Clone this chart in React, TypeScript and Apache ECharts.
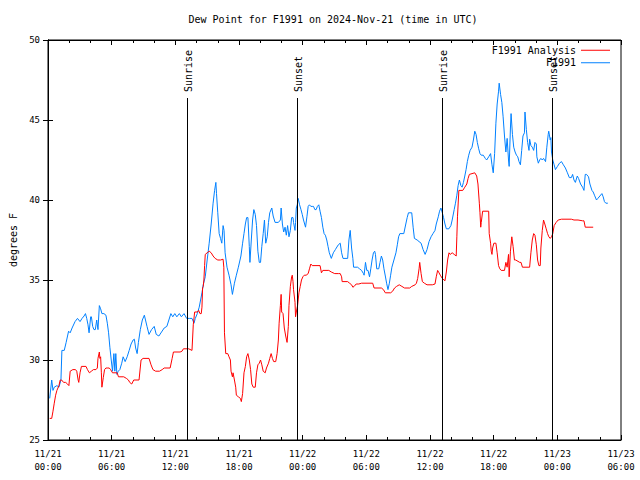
import React, { useEffect, useRef } from "react";
import * as echarts from "echarts";

// Hours since 11/21 00:00 UTC, dew point in degrees F
const f1991Analysis: [number, number][] = [
  [0.16,26.35],[0.35,26.35],[0.47,26.8],[0.59,27.3],[0.72,27.8],[0.84,28.1],[1.03,28.4],[1.15,28.75],[1.28,28.75],[1.47,28.6],[1.66,28.6],[1.84,28.5],[1.97,28.4],[2.09,29.3],[2.34,29.4],[2.59,29.4],[2.71,29.3],[2.84,28.75],[2.90,28.6],[3.02,29.2],[3.15,29.6],[3.58,29.6],[3.72,29.4],[3.90,29.2],[4.09,29.3],[4.28,29.4],[4.52,29.4],[4.65,29.5],[4.71,30.1],[4.84,30.5],[4.89,30.1],[4.96,30.2],[5.03,29.2],[5.08,28.3],[5.21,28.9],[5.33,29.4],[5.46,29.5],[5.64,29.5],[5.77,29.5],[5.90,29.4],[6.08,29.2],[6.52,29.2],[6.64,28.95],[7.14,28.95],[7.39,28.85],[7.58,28.75],[7.70,28.6],[7.89,28.5],[8.08,28.75],[8.58,28.75],[8.77,30.0],[8.96,30.1],[9.52,30.1],[9.71,29.7],[9.89,29.4],[10.14,29.3],[10.51,29.3],[10.76,29.4],[10.95,29.5],[11.51,29.5],[11.70,30.1],[11.82,30.5],[12.45,30.5],[12.63,30.55],[12.76,30.7],[13.26,30.7],[13.57,30.6],[13.69,32.2],[13.82,33.0],[14.07,33.0],[14.20,33.1],[14.32,32.9],[14.44,32.9],[14.51,33.3],[14.57,34.5],[14.63,34.6],[14.69,35.0],[14.76,35.9],[14.82,36.6],[15.00,36.7],[15.19,36.8],[15.38,36.7],[15.56,36.5],[15.75,36.35],[16.00,36.25],[16.26,36.25],[16.50,36.3],[16.57,35.8],[16.63,31.7],[16.75,30.4],[16.94,30.4],[17.06,30.2],[17.19,30.0],[17.25,29.3],[17.38,28.95],[17.44,29.2],[17.57,28.75],[17.69,28.3],[17.75,27.8],[17.94,27.7],[18.13,27.6],[18.22,27.4],[18.34,27.9],[18.47,29.2],[18.60,29.6],[18.72,30.2],[18.84,30.4],[18.97,30.0],[19.09,29.4],[19.21,28.5],[19.34,28.3],[19.53,28.3],[19.65,29.2],[19.78,29.7],[19.91,29.8],[20.03,30.0],[20.15,29.7],[20.28,29.3],[20.47,29.2],[20.59,29.5],[20.78,29.8],[20.90,30.1],[21.03,30.4],[21.15,30.1],[21.27,29.9],[21.46,29.9],[21.59,30.4],[21.71,31.25],[21.78,32.3],[21.90,33.4],[21.97,34.1],[22.02,33.0],[22.15,32.9],[22.27,32.0],[22.40,31.5],[22.53,31.1],[22.65,32.1],[22.71,33.4],[22.84,34.6],[22.96,35.2],[23.02,35.3],[23.09,34.9],[23.14,34.4],[23.28,33.6],[23.33,32.7],[23.40,33.0],[23.52,33.4],[23.65,34.2],[23.77,34.6],[23.89,35.0],[24.02,35.2],[24.15,35.3],[24.33,35.3],[24.52,35.4],[24.64,35.7],[24.77,36.0],[24.90,35.9],[25.64,35.9],[25.77,35.45],[25.90,35.6],[26.46,35.6],[26.70,35.5],[27.02,35.4],[27.36,35.4],[27.54,35.4],[27.67,35.2],[27.72,34.9],[28.24,34.9],[28.42,34.8],[28.61,34.7],[28.73,34.55],[28.85,34.6],[29.04,34.75],[29.29,34.75],[29.55,34.8],[30.60,34.8],[30.73,34.5],[31.42,34.5],[31.61,34.4],[31.79,34.2],[32.29,34.2],[32.48,34.3],[32.66,34.5],[32.85,34.6],[33.10,34.7],[33.35,34.6],[33.60,34.5],[34.09,34.5],[34.28,34.6],[34.60,34.7],[34.72,34.8],[34.84,35.1],[34.97,35.7],[35.03,36.1],[35.16,35.4],[35.28,34.9],[35.47,34.8],[35.72,34.7],[36.22,34.7],[36.47,34.75],[36.59,35.2],[36.72,35.6],[36.85,35.45],[36.97,35.3],[37.16,35.1],[37.41,34.95],[37.54,35.5],[37.66,36.25],[37.79,36.7],[37.90,36.6],[38.09,36.7],[38.28,36.6],[38.47,36.5],[38.53,37.7],[38.59,38.95],[38.72,40.6],[39.09,40.6],[39.28,40.8],[39.47,41.0],[39.59,41.35],[39.71,41.6],[40.22,41.7],[40.40,41.5],[40.52,41.0],[40.65,39.8],[40.71,39.2],[40.78,38.3],[40.83,38.6],[40.96,39.3],[41.53,39.3],[41.58,37.9],[41.71,37.3],[41.77,36.8],[41.84,36.6],[41.90,37.0],[42.02,37.3],[42.21,37.3],[42.33,36.7],[42.46,35.9],[42.58,35.7],[42.71,35.6],[43.02,35.6],[43.15,36.1],[43.27,35.8],[43.40,36.6],[43.46,35.2],[43.58,36.8],[43.71,37.7],[43.83,37.1],[43.96,36.25],[44.08,36.25],[44.46,36.1],[44.58,36.1],[44.71,35.8],[45.39,35.8],[45.51,36.7],[45.64,37.5],[45.77,37.9],[45.89,37.8],[46.02,37.2],[46.14,36.25],[46.26,35.9],[46.39,35.9],[46.45,37.0],[46.58,38.1],[46.70,38.75],[46.82,38.5],[46.95,38.2],[47.08,37.9],[47.20,37.7],[47.33,37.6],[47.45,37.7],[47.57,37.9],[47.70,38.4],[47.89,38.6],[48.08,38.75],[48.39,38.8],[49.32,38.8],[49.57,38.75],[49.95,38.75],[50.38,38.7],[50.51,38.7],[50.63,38.3],[51.38,38.3]
];

const f1991Obs: [number, number][] = [
  [0.16,27.6],[0.35,28.75],[0.47,28.1],[0.59,28.3],[0.84,28.4],[1.03,28.3],[1.22,28.75],[1.31,30.6],[1.53,30.6],[1.71,31.1],[1.94,31.8],[2.09,31.7],[2.27,32.0],[2.55,32.4],[2.78,32.6],[3.02,32.4],[3.21,32.6],[3.40,32.75],[3.53,32.9],[3.65,32.6],[3.77,32.2],[3.87,31.7],[4.02,32.7],[4.09,32.7],[4.21,32.1],[4.33,31.9],[4.46,31.9],[4.59,32.5],[4.71,31.9],[4.84,33.4],[4.96,33.2],[5.08,32.9],[5.27,32.9],[5.46,32.8],[5.59,32.3],[5.71,31.7],[5.83,30.8],[5.96,30.0],[6.08,29.3],[6.21,30.4],[6.30,29.3],[6.39,30.4],[6.49,29.1],[6.62,29.3],[6.77,29.4],[6.95,29.8],[7.08,30.2],[7.27,29.9],[7.46,30.2],[7.65,30.6],[7.83,31.0],[8.02,31.25],[8.14,31.3],[8.26,30.75],[8.40,30.4],[8.52,31.1],[8.70,31.9],[8.89,32.5],[9.08,32.8],[9.33,32.1],[9.52,31.6],[9.76,31.9],[10.01,32.1],[10.20,31.6],[10.45,31.5],[10.70,31.75],[10.95,32.0],[11.20,32.1],[11.39,32.5],[11.58,32.9],[11.76,32.7],[11.95,32.9],[12.14,32.7],[12.38,32.9],[12.57,32.7],[12.82,32.9],[13.07,32.6],[13.32,32.6],[13.57,32.6],[13.76,32.3],[13.88,32.6],[14.07,32.9],[14.25,33.3],[14.38,33.75],[14.51,34.2],[14.63,34.7],[14.82,35.2],[15.00,36.25],[15.19,37.3],[15.38,38.5],[15.56,39.8],[15.70,40.6],[15.82,41.1],[15.88,40.4],[16.00,39.2],[16.13,37.9],[16.26,37.6],[16.38,37.3],[16.50,38.4],[16.59,38.1],[16.69,36.7],[16.87,35.8],[17.06,35.3],[17.25,34.7],[17.38,34.1],[17.57,34.8],[17.75,35.3],[17.94,35.8],[18.18,36.5],[18.34,37.3],[18.47,37.9],[18.60,38.5],[18.72,38.9],[18.84,38.9],[18.97,37.1],[19.03,36.1],[19.16,37.5],[19.28,38.75],[19.40,39.4],[19.53,39.1],[19.65,38.4],[19.78,36.8],[19.91,36.1],[20.03,36.1],[20.15,37.1],[20.28,37.9],[20.40,38.75],[20.52,37.3],[20.66,37.7],[20.78,38.6],[20.90,39.2],[21.09,39.5],[21.22,39.0],[21.40,38.6],[21.71,38.6],[21.90,38.75],[21.97,39.5],[22.09,38.5],[22.21,38.0],[22.34,38.3],[22.46,37.8],[22.58,38.4],[22.71,37.7],[22.84,38.1],[22.96,38.9],[23.09,38.9],[23.14,38.6],[23.28,38.1],[23.33,38.6],[23.40,39.5],[23.49,39.7],[23.58,40.1],[23.71,39.7],[23.84,39.4],[23.96,39.1],[24.08,38.75],[24.27,38.3],[24.40,38.95],[24.52,39.6],[24.64,39.7],[24.77,39.6],[24.90,39.6],[25.02,39.6],[25.15,39.4],[25.27,39.4],[25.39,39.6],[25.52,39.7],[25.64,39.3],[25.77,38.9],[25.90,38.3],[26.02,37.9],[26.14,37.8],[26.27,37.5],[26.39,37.1],[26.51,36.7],[26.70,36.35],[26.89,36.7],[27.08,36.9],[27.17,37.0],[27.36,37.2],[27.54,37.3],[27.67,36.7],[27.80,36.35],[28.24,36.35],[28.36,37.5],[28.48,38.1],[28.61,37.0],[28.73,36.35],[28.80,35.8],[29.17,35.8],[29.36,35.7],[29.55,35.6],[29.73,35.4],[29.79,35.3],[29.92,36.1],[30.04,35.6],[30.16,35.6],[30.30,35.2],[30.42,35.7],[30.54,36.25],[30.67,36.7],[30.79,36.8],[30.86,36.6],[30.98,35.7],[31.17,35.7],[31.29,36.1],[31.42,36.5],[31.54,36.25],[31.66,35.7],[31.79,35.25],[31.91,34.8],[32.04,34.4],[32.17,34.8],[32.29,35.3],[32.41,35.8],[32.60,36.25],[32.79,36.7],[32.92,37.2],[33.04,37.7],[33.16,37.9],[33.53,37.9],[33.72,38.5],[33.85,38.9],[33.97,39.2],[34.28,39.2],[34.41,38.3],[34.53,37.6],[34.79,37.5],[34.97,37.4],[35.16,37.3],[35.35,36.9],[35.54,36.6],[35.72,36.9],[35.91,37.4],[36.10,37.7],[36.28,37.9],[36.47,38.1],[36.59,38.5],[36.78,38.95],[36.90,39.3],[37.03,39.5],[37.16,39.2],[37.28,38.9],[37.41,38.5],[37.54,38.2],[37.78,38.2],[37.97,38.4],[38.09,38.75],[38.28,39.4],[38.40,39.8],[38.53,40.3],[38.65,40.9],[38.77,41.25],[38.91,40.9],[39.03,40.8],[39.15,41.1],[39.28,41.5],[39.40,41.9],[39.52,42.4],[39.65,42.8],[39.78,43.1],[39.96,43.3],[40.09,43.75],[40.22,44.3],[40.34,44.1],[40.46,43.6],[40.59,43.2],[40.71,42.9],[40.83,42.8],[41.02,42.8],[41.21,42.6],[41.34,42.5],[41.53,42.7],[41.71,42.9],[41.84,42.2],[41.96,41.7],[42.09,42.9],[42.21,44.8],[42.33,46.0],[42.46,46.8],[42.52,47.3],[42.65,46.6],[42.77,46.1],[42.89,45.2],[43.02,44.0],[43.15,43.0],[43.27,43.85],[43.40,42.5],[43.46,42.1],[43.58,44.5],[43.64,45.4],[43.77,44.1],[43.89,43.3],[44.02,43.0],[44.15,42.8],[44.27,42.7],[44.39,42.4],[44.52,42.2],[44.64,43.1],[44.76,44.0],[44.90,44.2],[44.95,45.5],[45.08,44.4],[45.20,43.6],[45.33,43.1],[45.39,43.8],[45.51,43.4],[45.64,43.3],[45.77,43.1],[45.89,43.6],[46.02,43.5],[46.07,42.7],[46.21,42.3],[46.33,42.5],[46.45,42.6],[46.58,42.5],[46.70,42.6],[46.89,42.4],[47.01,43.3],[47.14,44.1],[47.19,44.3],[47.33,43.75],[47.39,43.9],[47.45,43.0],[47.57,42.5],[47.70,42.2],[47.82,41.9],[48.01,42.1],[48.20,42.3],[48.39,42.4],[48.57,42.2],[48.76,42.0],[48.95,41.7],[49.13,41.4],[49.32,41.4],[49.44,41.6],[49.57,41.25],[49.70,41.1],[49.88,41.5],[50.00,41.35],[50.19,41.0],[50.38,40.8],[50.51,40.6],[50.63,41.6],[50.75,41.6],[50.94,41.45],[51.07,41.0],[51.26,40.6],[51.38,40.5],[51.50,40.3],[51.69,40.0],[51.82,40.1],[52.01,40.25],[52.20,40.4],[52.32,40.2],[52.44,39.9],[52.57,39.8],[52.76,39.8]
];

const sunEventHours = [13.12, 23.51, 37.13, 47.49];
const sunEventNames = ["Sunrise", "Sunset", "Sunrise", "Sunset"];

const xTickLabels = [
  "11/21\n00:00", "11/21\n06:00", "11/21\n12:00", "11/21\n18:00",
  "11/22\n00:00", "11/22\n06:00", "11/22\n12:00", "11/22\n18:00",
  "11/23\n00:00", "11/23\n06:00",
];

const seriesNames = ["F1991 Analysis", "F1991"];
const titleText = "Dew Point for F1991 on 2024-Nov-21 (time in UTC)";
const yName = "degrees F";

const MONO = "'DejaVu Sans Mono', 'Liberation Mono', monospace";

export default function App() {
  const ref = useRef<HTMLDivElement>(null);

  useEffect(() => {
    if (!ref.current) return;
    const chart = echarts.init(ref.current, undefined, { renderer: "svg" });

    const xCommon = {
      type: "value" as const,
      min: 0,
      max: 54,
      interval: 6,
      splitLine: { show: false },
      minorSplitLine: { show: false },
      axisLine: { show: true, lineStyle: { color: "#000", width: 1 } },
      axisTick: { show: true, inside: true, length: 5, lineStyle: { color: "#000" } },
      minorTick: { show: true, splitNumber: 3, length: 3, lineStyle: { color: "#000" } },
    };
    const yCommon = {
      type: "value" as const,
      min: 25,
      max: 50,
      interval: 5,
      splitLine: { show: false },
      axisLine: { show: true, lineStyle: { color: "#000", width: 1 } },
      axisTick: { show: true, inside: true, length: 5, lineStyle: { color: "#000" } },
    };

    chart.setOption({
      animation: false,
      backgroundColor: "#fff",
      title: {
        text: titleText,
        left: 333,
        top: 14,
        textAlign: "center",
        padding: 0,
        textStyle: { fontFamily: MONO, fontSize: 10, fontWeight: "normal", color: "#000" },
      },
      legend: {
        data: seriesNames,
        orient: "vertical",
        right: 30,
        top: 44,
        align: "right",
        padding: 0,
        itemGap: 0,
        itemWidth: 29,
        itemHeight: 1,
        icon: "rect",
        selectedMode: false,
        textStyle: { fontFamily: MONO, fontSize: 10, color: "#000", lineHeight: 12.5 },
      },
      grid: {
        left: 46,
        right: 19,
        top: 40,
        bottom: 40,
        show: true,
        borderColor: "#000",
        borderWidth: 1,
      },
      xAxis: [
        {
          ...xCommon,
          position: "bottom",
          axisLabel: {
            show: true,
            margin: 7,
            fontFamily: MONO,
            fontSize: 9,
            lineHeight: 13,
            color: "#000",
            formatter: (v: number) => xTickLabels[Math.round(v / 6)] ?? "",
          },
        },
        {
          ...xCommon,
          position: "top",
          axisLabel: { show: false },
        },
      ],
      yAxis: [
        {
          ...yCommon,
          position: "left",
          name: yName,
          nameLocation: "middle",
          nameGap: 30,
          nameTextStyle: { fontFamily: MONO, fontSize: 10, color: "#000" },
          axisLabel: { margin: 8, fontFamily: MONO, fontSize: 9, color: "#000" },
        },
        {
          ...yCommon,
          position: "right",
          axisLabel: { show: false },
        },
      ],
      series: [
        {
          name: seriesNames[0],
          type: "line",
          data: f1991Analysis,
          showSymbol: false,
          symbol: "none",
          color: "#ff0000",
          lineStyle: { color: "#ff0000", width: 1 },
          z: 3,
        },
        {
          name: seriesNames[1],
          type: "line",
          data: f1991Obs,
          showSymbol: false,
          symbol: "none",
          color: "#0080ff",
          lineStyle: { color: "#0080ff", width: 1 },
          z: 2,
        },
        {
          name: "events",
          type: "custom",
          data: sunEventHours.map((h) => [h, 25]),
          z: 4,
          silent: true,
          renderItem: (params: any, api: any) => {
            const cs = params.coordSys;
            const bottom = api.coord([api.value(0), api.value(1)]);
            const x = Math.round(bottom[0]) + 0.5;
            const topY = cs.y + cs.height * 0.145;
            return {
              type: "group",
              children: [
                {
                  type: "line",
                  shape: { x1: x, y1: cs.y + cs.height, x2: x, y2: topY },
                  style: { stroke: "#000", lineWidth: 1 },
                },
                {
                  type: "text",
                  x: x + 1,
                  y: topY - 6,
                  rotation: Math.PI / 2,
                  style: {
                    text: sunEventNames[params.dataIndex],
                    align: "left",
                    verticalAlign: "middle",
                    fontFamily: MONO,
                    fontSize: 10,
                    fill: "#000",
                  },
                },
              ],
            };
          },
        },
      ],
    });

    return () => chart.dispose();
  }, []);

  return (
    <div
      ref={ref}
      style={{ position: "absolute", left: 0, top: 0, width: 640, height: 480 }}
    />
  );
}
